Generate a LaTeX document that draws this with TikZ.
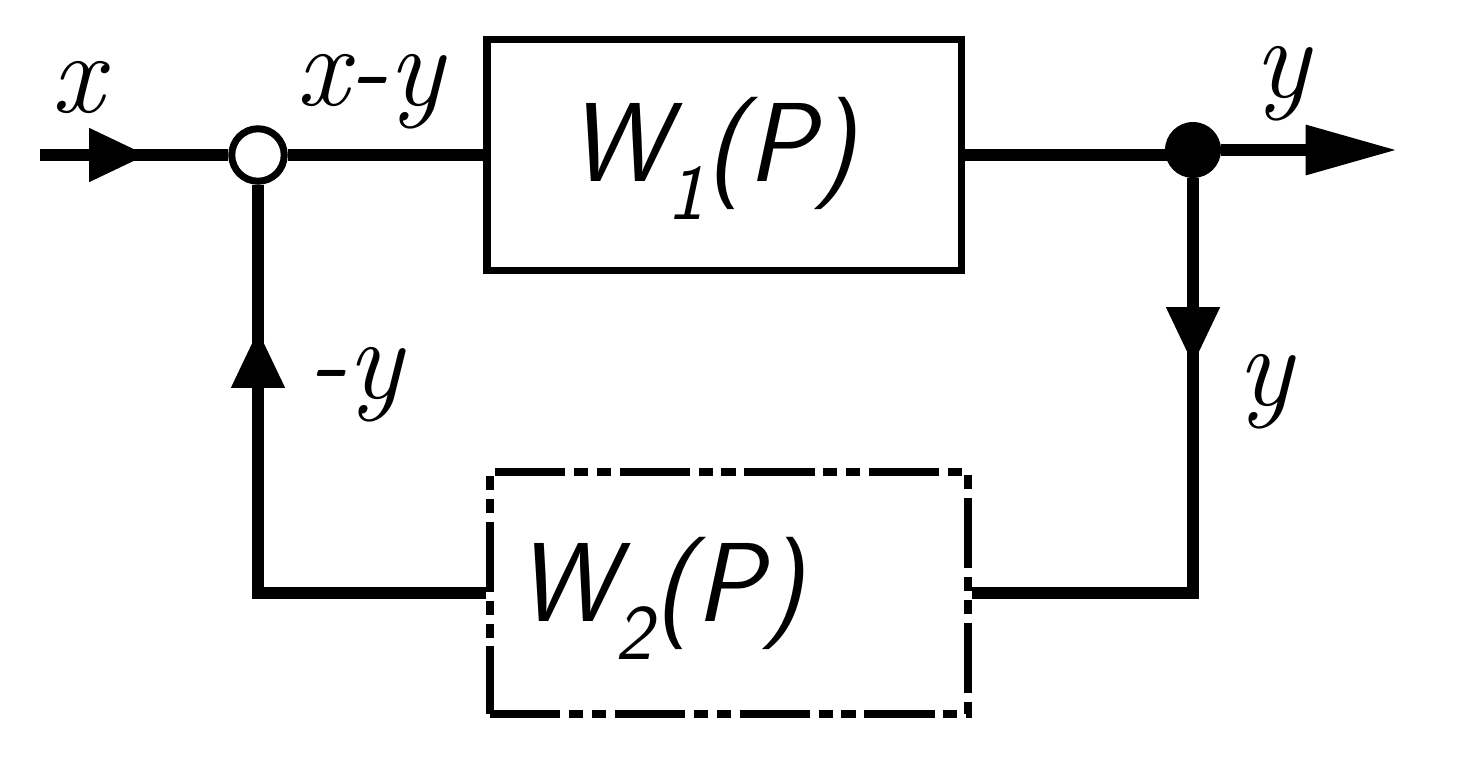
\documentclass[tikz,border=0pt]{standalone}
\usepackage{tikz}
\usetikzlibrary{arrows.meta, positioning, calc}

\begin{document}
\begin{tikzpicture}[
	  x=0.02cm, y=-0.02cm,
	  line_style/.style={
	  	line width=6.5pt,
	  	black
	  },
	  arrow_style/.style={
	  	line_style,
	  	-{Triangle[length=33pt,width=29pt]}
	  },
	  out_arrow/.style={
	  	line_style,
	  	-{Triangle[length=52pt,width=27pt]}
	  },
	  block_style/.style={
	  	rectangle,
	  	draw,
	  	line width=4.5pt,
	  	minimum width=9.5cm,
	  	minimum height=4.62cm,
	  	inner sep=0pt
	  },
	  dashed_block/.style={
	  	block_style,
	  	minimum width=9.56cm,
	  	minimum height=4.84cm,
	  	dash pattern=on 40pt off 5pt on 8pt off 5pt on 8pt off 5pt
	  },
	  sum_style/.style={circle, draw, fill=white, line width=4pt, minimum size=1.05cm, inner sep=0pt},
	  dot_style/.style={circle, fill=black, minimum size=1.12cm, inner sep=0pt},
	  signal_style/.style={inner sep=0pt, font=\fontsize{66}{66}\itshape\selectfont},
	  tf_style/.style={font=\fontsize{64}{64}\sffamily\slshape\selectfont}]
	\useasboundingbox (0,0) rectangle (1476,765);
	% Blocks
	\node[block_style] (w1) at (724,155) {};
	\node[dashed_block] (w2) at (729,593) {};
	\node[tf_style] (w1_text) at (712,158) {W\textsubscript{1}(P)};
	\node[tf_style] (w2_text) at (660,598) {W\textsubscript{2}(P)};
	% Junctions
	\node[sum_style] (sum) at (258,155) {};
	\node[dot_style] (branch) at (1193,150) {};
	\coordinate (input) at (40,155);
	\coordinate (input_tip) at (147,155);
	\coordinate (output) at (1397,150);
	\coordinate (down_tail) at (1193,250);
	\coordinate (down_tip) at (1193,365);
	\coordinate (right_corner) at (1193,593);
	\coordinate (left_corner) at (258,593);
	\coordinate (up_tail) at (258,450);
	\coordinate (up_tip) at (258,330);
	% Forward path
	\draw[line_style] (input) -- (sum.west);
	\draw[arrow_style] (input) -- (input_tip);
	\draw[line_style] (sum.east) -- (w1.west);
	\draw[line_style] (w1.east) -- (w1.east -| branch.center);
	\draw[out_arrow] (branch) -- (output);
	% Feedback path
	\draw[line_style] (branch) -- (right_corner) -- (w2.east);
	\draw[arrow_style] (down_tail) -- (down_tip);
	\draw[line_style] (w2.west) -- (left_corner) -- (sum.south);
	\draw[arrow_style] (up_tail) -- (up_tip);
	% Signals
	\node[signal_style] (x_label) at (78,88) {x};
	\node[signal_style] (e_label) at (370,92) {x-y};
	\node[signal_style] (fb_label) at (355,385) {-y};
	\node[signal_style] (y_label) at (1282,84) {y};
	\node[signal_style] (yb_label) at (1265,392) {y};
\end{tikzpicture}
\end{document}
